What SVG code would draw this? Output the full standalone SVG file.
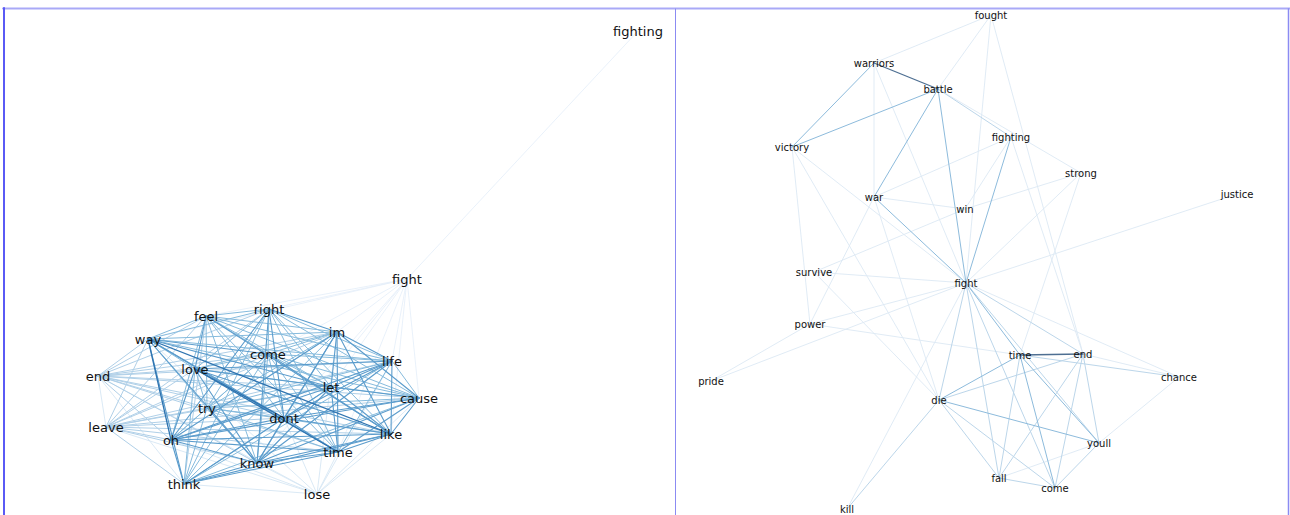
<svg xmlns="http://www.w3.org/2000/svg" width="1290" height="515" viewBox="0 0 1290 515">
<style>
.bg{fill:#ffffff}
.frame{fill:none}
line{stroke-linecap:round;fill:none}
.c0{stroke:#e3eef9;stroke-width:0.8}
.c1{stroke:#d6e6f4;stroke-width:0.9}
.c2{stroke:#b0d0e8;stroke-width:1}
.c3{stroke:#86bbdd;stroke-width:1}
.c4{stroke:#5b9ccc;stroke-width:1.1}
.c5{stroke:#2f74b0;stroke-width:1.3}
.r1{stroke:#dde9f4;stroke-width:0.9}
.r2{stroke:#bcd6ea;stroke-width:1}
.r3{stroke:#8dbbdc;stroke-width:1}
.r5{stroke:#4e6f92;stroke-width:1.3}
.tl{font-family:"DejaVu Sans","Liberation Sans",sans-serif;font-size:13px;fill:#111;text-anchor:middle}
.tr{font-family:"DejaVu Sans","Liberation Sans",sans-serif;font-size:10px;fill:#111;text-anchor:middle}
</style>
<rect class="bg" x="0" y="0" width="1290" height="515"/>
<g id="frame">
<line x1="3" y1="8.5" x2="1290" y2="8.5" stroke="#a9a9f7" stroke-width="2"/>
<line x1="4" y1="8" x2="4" y2="515" stroke="#5a5af5" stroke-width="2"/>
<line x1="675.5" y1="9" x2="675.5" y2="515" stroke="#8b8bf2" stroke-width="1"/>
<line x1="1288.5" y1="9" x2="1288.5" y2="515" stroke="#8b8bf2" stroke-width="1.5"/>
</g>
<g id="connectors">
<g id="edges-left">
<line class="c0" x1="407" y1="279" x2="638" y2="31"/>
<line class="c0" x1="407" y1="279" x2="269" y2="309"/>
<line class="c0" x1="407" y1="279" x2="337" y2="332"/>
<line class="c0" x1="407" y1="279" x2="392" y2="361"/>
<line class="c0" x1="407" y1="279" x2="419" y2="398"/>
<line class="c0" x1="407" y1="279" x2="391" y2="434"/>
<line class="c0" x1="407" y1="279" x2="268" y2="354"/>
<line class="c0" x1="407" y1="279" x2="206" y2="316"/>
<line class="c0" x1="407" y1="279" x2="331" y2="387"/>
<line class="c0" x1="407" y1="279" x2="338" y2="452"/>
<line class="c0" x1="407" y1="279" x2="257" y2="463"/>
<line class="c0" x1="407" y1="279" x2="284" y2="418"/>
<line class="c0" x1="407" y1="279" x2="148" y2="339"/>
<line class="c1" x1="317" y1="494" x2="98" y2="376"/>
<line class="c1" x1="317" y1="494" x2="106" y2="427"/>
<line class="c1" x1="317" y1="494" x2="171" y2="440"/>
<line class="c1" x1="317" y1="494" x2="184" y2="484"/>
<line class="c1" x1="317" y1="494" x2="257" y2="463"/>
<line class="c1" x1="317" y1="494" x2="338" y2="452"/>
<line class="c1" x1="317" y1="494" x2="391" y2="434"/>
<line class="c1" x1="317" y1="494" x2="419" y2="398"/>
<line class="c1" x1="317" y1="494" x2="392" y2="361"/>
<line class="c1" x1="317" y1="494" x2="284" y2="418"/>
<line class="c1" x1="317" y1="494" x2="337" y2="332"/>
<line class="c1" x1="317" y1="494" x2="148" y2="339"/>
<line class="c1" x1="98" y1="376" x2="106" y2="427"/>
<line class="c1" x1="98" y1="376" x2="184" y2="484"/>
<line class="c2" x1="206" y1="316" x2="98" y2="376"/>
<line class="c2" x1="206" y1="316" x2="106" y2="427"/>
<line class="c2" x1="206" y1="316" x2="184" y2="484"/>
<line class="c2" x1="269" y1="309" x2="98" y2="376"/>
<line class="c2" x1="269" y1="309" x2="106" y2="427"/>
<line class="c2" x1="148" y1="339" x2="98" y2="376"/>
<line class="c2" x1="148" y1="339" x2="106" y2="427"/>
<line class="c2" x1="337" y1="332" x2="98" y2="376"/>
<line class="c2" x1="337" y1="332" x2="106" y2="427"/>
<line class="c2" x1="268" y1="354" x2="98" y2="376"/>
<line class="c2" x1="268" y1="354" x2="106" y2="427"/>
<line class="c2" x1="392" y1="361" x2="98" y2="376"/>
<line class="c2" x1="392" y1="361" x2="106" y2="427"/>
<line class="c2" x1="98" y1="376" x2="195" y2="369"/>
<line class="c2" x1="98" y1="376" x2="331" y2="387"/>
<line class="c2" x1="98" y1="376" x2="419" y2="398"/>
<line class="c2" x1="98" y1="376" x2="207" y2="408"/>
<line class="c2" x1="98" y1="376" x2="284" y2="418"/>
<line class="c2" x1="98" y1="376" x2="391" y2="434"/>
<line class="c2" x1="98" y1="376" x2="171" y2="440"/>
<line class="c2" x1="98" y1="376" x2="338" y2="452"/>
<line class="c2" x1="98" y1="376" x2="257" y2="463"/>
<line class="c2" x1="195" y1="369" x2="106" y2="427"/>
<line class="c2" x1="331" y1="387" x2="106" y2="427"/>
<line class="c2" x1="419" y1="398" x2="106" y2="427"/>
<line class="c2" x1="207" y1="408" x2="106" y2="427"/>
<line class="c2" x1="284" y1="418" x2="106" y2="427"/>
<line class="c2" x1="106" y1="427" x2="391" y2="434"/>
<line class="c2" x1="106" y1="427" x2="171" y2="440"/>
<line class="c2" x1="106" y1="427" x2="338" y2="452"/>
<line class="c2" x1="106" y1="427" x2="257" y2="463"/>
<line class="c2" x1="106" y1="427" x2="184" y2="484"/>
<line class="c3" x1="206" y1="316" x2="269" y2="309"/>
<line class="c3" x1="206" y1="316" x2="148" y2="339"/>
<line class="c3" x1="206" y1="316" x2="337" y2="332"/>
<line class="c3" x1="206" y1="316" x2="268" y2="354"/>
<line class="c3" x1="206" y1="316" x2="392" y2="361"/>
<line class="c3" x1="206" y1="316" x2="331" y2="387"/>
<line class="c3" x1="206" y1="316" x2="419" y2="398"/>
<line class="c3" x1="206" y1="316" x2="207" y2="408"/>
<line class="c3" x1="206" y1="316" x2="284" y2="418"/>
<line class="c3" x1="206" y1="316" x2="171" y2="440"/>
<line class="c3" x1="206" y1="316" x2="338" y2="452"/>
<line class="c3" x1="206" y1="316" x2="257" y2="463"/>
<line class="c3" x1="269" y1="309" x2="148" y2="339"/>
<line class="c3" x1="269" y1="309" x2="268" y2="354"/>
<line class="c3" x1="269" y1="309" x2="392" y2="361"/>
<line class="c3" x1="269" y1="309" x2="195" y2="369"/>
<line class="c3" x1="269" y1="309" x2="331" y2="387"/>
<line class="c3" x1="269" y1="309" x2="419" y2="398"/>
<line class="c3" x1="269" y1="309" x2="207" y2="408"/>
<line class="c3" x1="269" y1="309" x2="391" y2="434"/>
<line class="c3" x1="269" y1="309" x2="338" y2="452"/>
<line class="c3" x1="269" y1="309" x2="184" y2="484"/>
<line class="c3" x1="148" y1="339" x2="337" y2="332"/>
<line class="c3" x1="148" y1="339" x2="392" y2="361"/>
<line class="c3" x1="148" y1="339" x2="195" y2="369"/>
<line class="c3" x1="148" y1="339" x2="419" y2="398"/>
<line class="c3" x1="148" y1="339" x2="207" y2="408"/>
<line class="c3" x1="337" y1="332" x2="268" y2="354"/>
<line class="c3" x1="337" y1="332" x2="195" y2="369"/>
<line class="c3" x1="337" y1="332" x2="207" y2="408"/>
<line class="c3" x1="337" y1="332" x2="184" y2="484"/>
<line class="c3" x1="268" y1="354" x2="392" y2="361"/>
<line class="c3" x1="268" y1="354" x2="195" y2="369"/>
<line class="c3" x1="268" y1="354" x2="331" y2="387"/>
<line class="c3" x1="268" y1="354" x2="419" y2="398"/>
<line class="c3" x1="268" y1="354" x2="207" y2="408"/>
<line class="c3" x1="268" y1="354" x2="284" y2="418"/>
<line class="c3" x1="268" y1="354" x2="171" y2="440"/>
<line class="c3" x1="268" y1="354" x2="338" y2="452"/>
<line class="c3" x1="268" y1="354" x2="257" y2="463"/>
<line class="c3" x1="268" y1="354" x2="184" y2="484"/>
<line class="c3" x1="392" y1="361" x2="419" y2="398"/>
<line class="c3" x1="392" y1="361" x2="207" y2="408"/>
<line class="c3" x1="392" y1="361" x2="338" y2="452"/>
<line class="c3" x1="392" y1="361" x2="184" y2="484"/>
<line class="c3" x1="195" y1="369" x2="419" y2="398"/>
<line class="c3" x1="195" y1="369" x2="207" y2="408"/>
<line class="c3" x1="195" y1="369" x2="184" y2="484"/>
<line class="c3" x1="331" y1="387" x2="207" y2="408"/>
<line class="c3" x1="331" y1="387" x2="184" y2="484"/>
<line class="c3" x1="419" y1="398" x2="207" y2="408"/>
<line class="c3" x1="419" y1="398" x2="184" y2="484"/>
<line class="c3" x1="207" y1="408" x2="284" y2="418"/>
<line class="c3" x1="207" y1="408" x2="391" y2="434"/>
<line class="c3" x1="207" y1="408" x2="171" y2="440"/>
<line class="c3" x1="207" y1="408" x2="338" y2="452"/>
<line class="c3" x1="207" y1="408" x2="184" y2="484"/>
<line class="c4" x1="206" y1="316" x2="195" y2="369"/>
<line class="c4" x1="206" y1="316" x2="391" y2="434"/>
<line class="c4" x1="269" y1="309" x2="337" y2="332"/>
<line class="c4" x1="269" y1="309" x2="284" y2="418"/>
<line class="c4" x1="269" y1="309" x2="171" y2="440"/>
<line class="c4" x1="269" y1="309" x2="257" y2="463"/>
<line class="c4" x1="148" y1="339" x2="268" y2="354"/>
<line class="c4" x1="148" y1="339" x2="331" y2="387"/>
<line class="c4" x1="148" y1="339" x2="284" y2="418"/>
<line class="c4" x1="148" y1="339" x2="338" y2="452"/>
<line class="c4" x1="148" y1="339" x2="257" y2="463"/>
<line class="c4" x1="148" y1="339" x2="184" y2="484"/>
<line class="c4" x1="337" y1="332" x2="392" y2="361"/>
<line class="c4" x1="337" y1="332" x2="331" y2="387"/>
<line class="c4" x1="337" y1="332" x2="419" y2="398"/>
<line class="c4" x1="337" y1="332" x2="284" y2="418"/>
<line class="c4" x1="337" y1="332" x2="391" y2="434"/>
<line class="c4" x1="337" y1="332" x2="171" y2="440"/>
<line class="c4" x1="337" y1="332" x2="338" y2="452"/>
<line class="c4" x1="337" y1="332" x2="257" y2="463"/>
<line class="c4" x1="268" y1="354" x2="391" y2="434"/>
<line class="c4" x1="392" y1="361" x2="195" y2="369"/>
<line class="c4" x1="392" y1="361" x2="331" y2="387"/>
<line class="c4" x1="392" y1="361" x2="284" y2="418"/>
<line class="c4" x1="392" y1="361" x2="391" y2="434"/>
<line class="c4" x1="392" y1="361" x2="171" y2="440"/>
<line class="c4" x1="392" y1="361" x2="257" y2="463"/>
<line class="c4" x1="195" y1="369" x2="331" y2="387"/>
<line class="c4" x1="195" y1="369" x2="391" y2="434"/>
<line class="c4" x1="195" y1="369" x2="171" y2="440"/>
<line class="c4" x1="195" y1="369" x2="257" y2="463"/>
<line class="c4" x1="331" y1="387" x2="419" y2="398"/>
<line class="c4" x1="331" y1="387" x2="284" y2="418"/>
<line class="c4" x1="331" y1="387" x2="391" y2="434"/>
<line class="c4" x1="331" y1="387" x2="171" y2="440"/>
<line class="c4" x1="331" y1="387" x2="338" y2="452"/>
<line class="c4" x1="331" y1="387" x2="257" y2="463"/>
<line class="c4" x1="419" y1="398" x2="284" y2="418"/>
<line class="c4" x1="419" y1="398" x2="391" y2="434"/>
<line class="c4" x1="419" y1="398" x2="171" y2="440"/>
<line class="c4" x1="419" y1="398" x2="338" y2="452"/>
<line class="c4" x1="419" y1="398" x2="257" y2="463"/>
<line class="c4" x1="207" y1="408" x2="257" y2="463"/>
<line class="c4" x1="284" y1="418" x2="391" y2="434"/>
<line class="c4" x1="284" y1="418" x2="171" y2="440"/>
<line class="c4" x1="284" y1="418" x2="338" y2="452"/>
<line class="c4" x1="284" y1="418" x2="257" y2="463"/>
<line class="c4" x1="284" y1="418" x2="184" y2="484"/>
<line class="c4" x1="391" y1="434" x2="171" y2="440"/>
<line class="c4" x1="391" y1="434" x2="338" y2="452"/>
<line class="c4" x1="391" y1="434" x2="257" y2="463"/>
<line class="c4" x1="391" y1="434" x2="184" y2="484"/>
<line class="c4" x1="171" y1="440" x2="338" y2="452"/>
<line class="c4" x1="171" y1="440" x2="257" y2="463"/>
<line class="c4" x1="171" y1="440" x2="184" y2="484"/>
<line class="c4" x1="338" y1="452" x2="257" y2="463"/>
<line class="c4" x1="338" y1="452" x2="184" y2="484"/>
<line class="c4" x1="257" y1="463" x2="184" y2="484"/>
<line class="c5" x1="148" y1="339" x2="391" y2="434"/>
<line class="c5" x1="148" y1="339" x2="171" y2="440"/>
<line class="c5" x1="195" y1="369" x2="284" y2="418"/>
<line class="c5" x1="195" y1="369" x2="338" y2="452"/>
</g>
<g id="edges-right">
<line class="r1" x1="991" y1="15" x2="874" y2="63"/>
<line class="r1" x1="991" y1="15" x2="938" y2="89"/>
<line class="r1" x1="991" y1="15" x2="966" y2="283"/>
<line class="r1" x1="991" y1="15" x2="1083" y2="354"/>
<line class="r1" x1="874" y1="63" x2="874" y2="197"/>
<line class="r1" x1="874" y1="63" x2="966" y2="283"/>
<line class="r1" x1="938" y1="89" x2="1081" y2="173"/>
<line class="r1" x1="1011" y1="137" x2="874" y2="197"/>
<line class="r1" x1="1011" y1="137" x2="965" y2="209"/>
<line class="r1" x1="1011" y1="137" x2="1083" y2="354"/>
<line class="r1" x1="792" y1="147" x2="966" y2="283"/>
<line class="r1" x1="792" y1="147" x2="939" y2="400"/>
<line class="r1" x1="792" y1="147" x2="810" y2="324"/>
<line class="r1" x1="874" y1="197" x2="965" y2="209"/>
<line class="r1" x1="874" y1="197" x2="939" y2="400"/>
<line class="r1" x1="874" y1="197" x2="810" y2="324"/>
<line class="r1" x1="965" y1="209" x2="814" y2="272"/>
<line class="r1" x1="1081" y1="173" x2="965" y2="209"/>
<line class="r1" x1="1081" y1="173" x2="966" y2="283"/>
<line class="r1" x1="1081" y1="173" x2="1020" y2="355"/>
<line class="r1" x1="1237" y1="194" x2="966" y2="283"/>
<line class="r1" x1="814" y1="272" x2="966" y2="283"/>
<line class="r1" x1="814" y1="272" x2="939" y2="400"/>
<line class="r1" x1="711" y1="381" x2="966" y2="283"/>
<line class="r1" x1="711" y1="381" x2="810" y2="324"/>
<line class="r1" x1="810" y1="324" x2="966" y2="283"/>
<line class="r1" x1="810" y1="324" x2="1020" y2="355"/>
<line class="r1" x1="966" y1="283" x2="1179" y2="377"/>
<line class="r1" x1="966" y1="283" x2="847" y2="509"/>
<line class="r1" x1="1083" y1="354" x2="1179" y2="377"/>
<line class="r1" x1="999" y1="478" x2="1099" y2="443"/>
<line class="r1" x1="1179" y1="377" x2="1099" y2="443"/>
<line class="r2" x1="938" y1="89" x2="1011" y2="137"/>
<line class="r2" x1="966" y1="283" x2="939" y2="400"/>
<line class="r2" x1="966" y1="283" x2="1083" y2="354"/>
<line class="r2" x1="966" y1="283" x2="1099" y2="443"/>
<line class="r2" x1="966" y1="283" x2="999" y2="478"/>
<line class="r2" x1="966" y1="283" x2="1055" y2="488"/>
<line class="r2" x1="1020" y1="355" x2="999" y2="478"/>
<line class="r2" x1="1020" y1="355" x2="1179" y2="377"/>
<line class="r2" x1="1083" y1="354" x2="939" y2="400"/>
<line class="r2" x1="1083" y1="354" x2="999" y2="478"/>
<line class="r2" x1="1083" y1="354" x2="1055" y2="488"/>
<line class="r2" x1="1083" y1="354" x2="1099" y2="443"/>
<line class="r2" x1="939" y1="400" x2="999" y2="478"/>
<line class="r2" x1="939" y1="400" x2="1055" y2="488"/>
<line class="r2" x1="939" y1="400" x2="847" y2="509"/>
<line class="r2" x1="999" y1="478" x2="1055" y2="488"/>
<line class="r2" x1="1055" y1="488" x2="1099" y2="443"/>
<line class="r3" x1="874" y1="63" x2="792" y2="147"/>
<line class="r3" x1="938" y1="89" x2="792" y2="147"/>
<line class="r3" x1="938" y1="89" x2="874" y2="197"/>
<line class="r3" x1="938" y1="89" x2="966" y2="283"/>
<line class="r3" x1="1011" y1="137" x2="966" y2="283"/>
<line class="r3" x1="874" y1="197" x2="966" y2="283"/>
<line class="r3" x1="966" y1="283" x2="1020" y2="355"/>
<line class="r3" x1="1020" y1="355" x2="939" y2="400"/>
<line class="r3" x1="1020" y1="355" x2="1055" y2="488"/>
<line class="r3" x1="1020" y1="355" x2="1099" y2="443"/>
<line class="r3" x1="939" y1="400" x2="1099" y2="443"/>
<line class="r5" x1="874" y1="63" x2="938" y2="89"/>
<line class="r5" x1="1020" y1="355" x2="1083" y2="354"/>
</g>
</g>
<g id="nodes-left">
<g id="L-fighting"><text class="tl" x="638" y="35.5">fighting</text></g>
<g id="L-fight"><text class="tl" x="407" y="283.5">fight</text></g>
<g id="L-feel"><text class="tl" x="206" y="320.5">feel</text></g>
<g id="L-right"><text class="tl" x="269" y="313.5">right</text></g>
<g id="L-way"><text class="tl" x="148" y="343.5">way</text></g>
<g id="L-im"><text class="tl" x="337" y="336.5">im</text></g>
<g id="L-come"><text class="tl" x="268" y="358.5">come</text></g>
<g id="L-life"><text class="tl" x="392" y="365.5">life</text></g>
<g id="L-end"><text class="tl" x="98" y="380.5">end</text></g>
<g id="L-love"><text class="tl" x="195" y="373.5">love</text></g>
<g id="L-let"><text class="tl" x="331" y="391.5">let</text></g>
<g id="L-cause"><text class="tl" x="419" y="402.5">cause</text></g>
<g id="L-try"><text class="tl" x="207" y="412.5">try</text></g>
<g id="L-dont"><text class="tl" x="284" y="422.5">dont</text></g>
<g id="L-leave"><text class="tl" x="106" y="431.5">leave</text></g>
<g id="L-like"><text class="tl" x="391" y="438.5">like</text></g>
<g id="L-oh"><text class="tl" x="171" y="444.5">oh</text></g>
<g id="L-time"><text class="tl" x="338" y="456.5">time</text></g>
<g id="L-know"><text class="tl" x="257" y="467.5">know</text></g>
<g id="L-think"><text class="tl" x="184" y="488.5">think</text></g>
<g id="L-lose"><text class="tl" x="317" y="498.5">lose</text></g>
</g>
<g id="nodes-right">
<g id="R-fought"><text class="tr" x="991" y="18.5">fought</text></g>
<g id="R-warriors"><text class="tr" x="874" y="66.5">warriors</text></g>
<g id="R-battle"><text class="tr" x="938" y="92.5">battle</text></g>
<g id="R-fighting"><text class="tr" x="1011" y="140.5">fighting</text></g>
<g id="R-victory"><text class="tr" x="792" y="150.5">victory</text></g>
<g id="R-strong"><text class="tr" x="1081" y="176.5">strong</text></g>
<g id="R-justice"><text class="tr" x="1237" y="197.5">justice</text></g>
<g id="R-war"><text class="tr" x="874" y="200.5">war</text></g>
<g id="R-win"><text class="tr" x="965" y="212.5">win</text></g>
<g id="R-survive"><text class="tr" x="814" y="275.5">survive</text></g>
<g id="R-fight"><text class="tr" x="966" y="286.5">fight</text></g>
<g id="R-power"><text class="tr" x="810" y="327.5">power</text></g>
<g id="R-time"><text class="tr" x="1020" y="358.5">time</text></g>
<g id="R-end"><text class="tr" x="1083" y="357.5">end</text></g>
<g id="R-chance"><text class="tr" x="1179" y="380.5">chance</text></g>
<g id="R-pride"><text class="tr" x="711" y="384.5">pride</text></g>
<g id="R-die"><text class="tr" x="939" y="403.5">die</text></g>
<g id="R-youll"><text class="tr" x="1099" y="446.5">youll</text></g>
<g id="R-fall"><text class="tr" x="999" y="481.5">fall</text></g>
<g id="R-come"><text class="tr" x="1055" y="491.5">come</text></g>
<g id="R-kill"><text class="tr" x="847" y="512.5">kill</text></g>
</g>
</svg>
